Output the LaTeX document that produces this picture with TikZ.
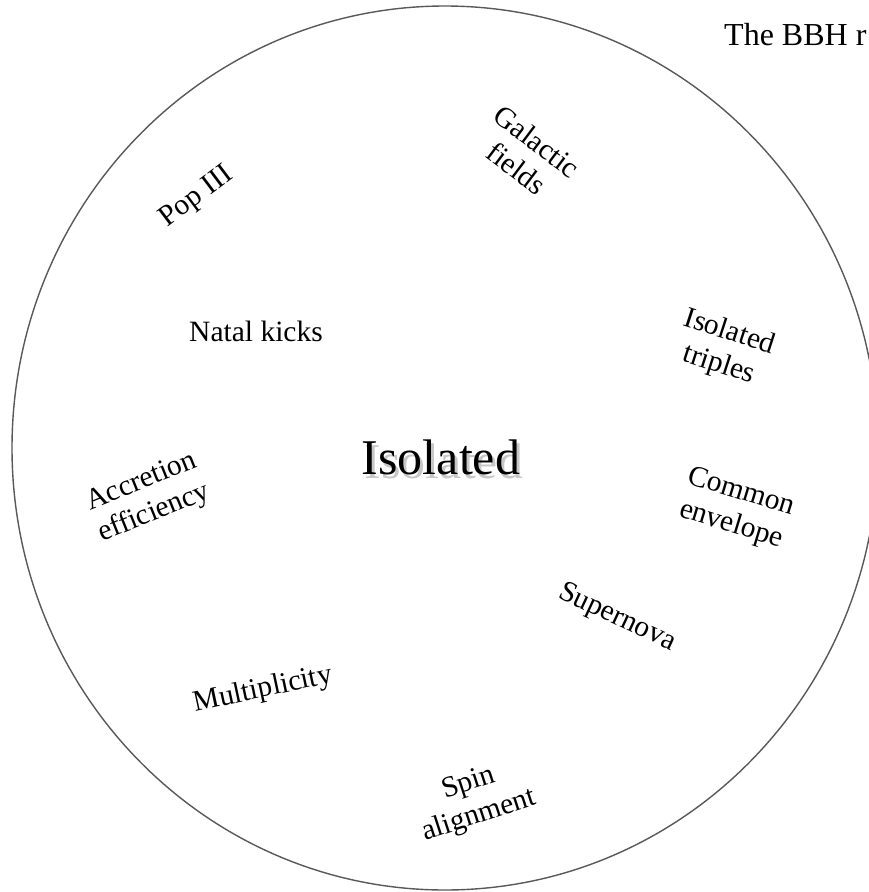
\documentclass[tikz,border=0pt]{standalone}
\usepackage{fontspec}
\setmainfont{Liberation Serif}
\tikzset{
  ring/.style={draw=black!65, line width=1.4pt},
  factor/.style={font=\rmfamily\fontsize{29.5}{34}\selectfont, align=center, inner sep=0pt},
  hub/.style={font=\rmfamily\fontsize{50}{60}\selectfont, inner sep=0pt},
  hubshade/.style={hub, text=black, opacity=0.22},
  caption/.style={font=\rmfamily\fontsize{32}{38}\selectfont, inner sep=0pt, anchor=base west},
}

\begin{document}
\begin{tikzpicture}[x=1pt, y=-1pt]
  \useasboundingbox[fill=white] (0,0) rectangle (868,892);
  \draw[ring] (445,448) ellipse [x radius=433pt, y radius=442pt];
  \node[caption] (title) at (724,45) {The BBH r};

  % soft shadow under the centre word
  \node[hubshade] (shade) at (444,461) {Isolated};
  \node[hub] (hub) at (441,457) {Isolated};

  \node[factor, rotate=37] (popiii) at (197,197) {Pop III};
  \node[factor, rotate=-37] (galactic) at (527,155) {Galactic\\ fields};
  \node[factor] (natal) at (256,331) {Natal kicks};
  \node[factor, rotate=-18] (triples) at (724,349) {Isolated\\ triples};
  \node[factor, rotate=22] (accretion) at (148,498) {Accretion\\ efficiency};
  \node[factor, rotate=-17] (envelope) at (736,509) {Common\\ envelope};
  \node[factor, rotate=-25] (supernova) at (617,618) {Supernova};
  \node[factor, rotate=12] (multiplicity) at (263,690) {Multiplicity};
  \node[factor, rotate=18] (spin) at (474,800) {Spin\\ alignment};
\end{tikzpicture}
\end{document}
